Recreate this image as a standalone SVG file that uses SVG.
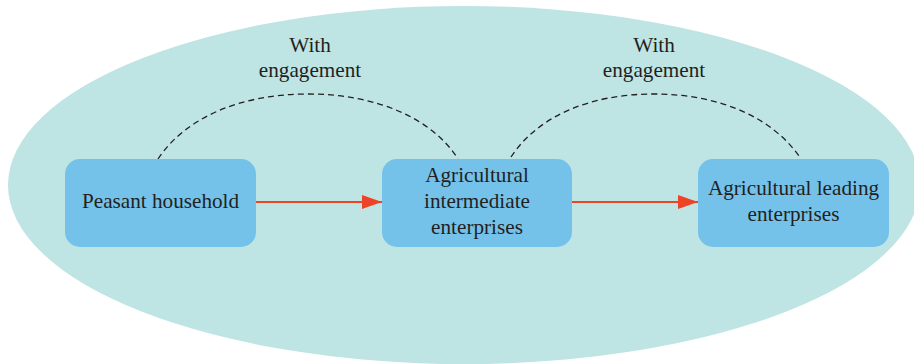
<svg xmlns="http://www.w3.org/2000/svg" width="914" height="364" viewBox="0 0 914 364">
<defs>
<style>
.node{fill:#74c2ea}
.t{font-family:"Liberation Serif","Times New Roman",serif;font-size:21.2px;fill:#231f20;text-anchor:middle}
.arr{stroke:#ee4326;stroke-width:2;fill:none}
.dash{stroke:#231f20;stroke-width:1.3;fill:none;stroke-dasharray:6 4}
</style>
<marker id="ah" viewBox="0 0 20 14" refX="20" refY="7" markerWidth="20" markerHeight="14" markerUnits="userSpaceOnUse" orient="auto">
<path d="M0,0 L20,7 L0,14 Z" fill="#ee4326"/>
</marker>
</defs>
<ellipse cx="464" cy="185" rx="456" ry="179" fill="#bee4e4"/>
<g id="connectors">
<path class="dash" d="M158,159 C185,118 240,94 308,94 C376,94 432,118 458,159"/>
<path class="dash" d="M511,157 C538,116 590,94 654,94 C720,94 774,118 801,159"/>
<line class="arr" x1="256" y1="202" x2="382" y2="202" marker-end="url(#ah)"/>
<line class="arr" x1="572" y1="202" x2="698" y2="202" marker-end="url(#ah)"/>
<text class="t" x="310" y="52">With</text>
<text class="t" x="310" y="77">engagement</text>
<text class="t" x="654" y="52">With</text>
<text class="t" x="654" y="77">engagement</text>
</g>
<g id="peasant">
<rect class="node" x="65" y="159" width="191" height="88" rx="15"/>
<text class="t" x="160.5" y="208">Peasant household</text>
</g>
<g id="intermediate">
<rect class="node" x="382" y="159" width="190" height="88" rx="15"/>
<text class="t" x="477" y="182">Agricultural</text>
<text class="t" x="477" y="208">intermediate</text>
<text class="t" x="477" y="234">enterprises</text>
</g>
<g id="leading">
<rect class="node" x="698" y="159" width="191" height="88" rx="15"/>
<text class="t" x="793.5" y="195">Agricultural leading</text>
<text class="t" x="793.5" y="221">enterprises</text>
</g>
</svg>
